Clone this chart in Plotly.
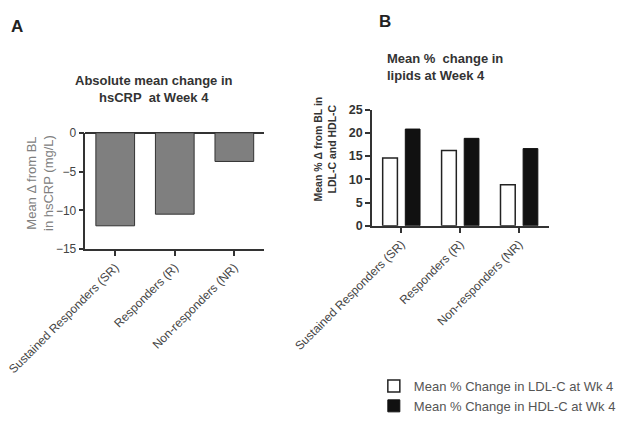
import plotly.graph_objects as go

categories = ["Sustained Responders (SR)", "Responders (R)", "Non-responders (NR)"]
hscrp_change = [-12.0, -10.5, -3.7]
ldl_change = [14.6, 16.2, 8.8]
hdl_change = [20.8, 18.8, 16.6]
series_names = ["Mean % Change in LDL-C at Wk 4", "Mean % Change in HDL-C at Wk 4"]

FONT = "Liberation Sans, Arial, sans-serif"
W, H = 621, 421


def px_x(x):
    return x / W


def px_y(y):
    return 1 - y / H


fig = go.Figure()

fig.add_trace(go.Bar(
    x=categories, y=hscrp_change, xaxis="x", yaxis="y",
    marker=dict(color="#7f7f7f", line=dict(color="#333333", width=1)),
    width=0.65, offset=-0.325, showlegend=False,
))
fig.add_trace(go.Bar(
    x=categories, y=ldl_change, xaxis="x2", yaxis="y2", name=series_names[0],
    marker=dict(color="white", line=dict(color="#222222", width=1.5)),
    width=0.25, offset=-0.317,
))
fig.add_trace(go.Bar(
    x=categories, y=hdl_change, xaxis="x2", yaxis="y2", name=series_names[1],
    marker=dict(color="#111111", line=dict(color="#111111", width=1)),
    width=0.25, offset=0.067,
))

axis_common = dict(showgrid=False, showline=True, linecolor="#333333", linewidth=1.5,
                   ticks="outside", ticklen=5, tickcolor="#333333", tickwidth=1.5,
                   automargin=False)

fig.update_layout(
    width=W, height=H,
    margin=dict(l=0, r=0, t=0, b=0),
    paper_bgcolor="white", plot_bgcolor="white",
    barmode="overlay",
    font=dict(family=FONT, size=11, color="#444444"),
    xaxis=dict(domain=[px_x(88), px_x(272)], anchor="y", range=[-0.5, 2.5],
               tickangle=-45, tickfont=dict(size=12, color="#444444"), **axis_common),
    yaxis=dict(domain=[px_y(257), px_y(137)], anchor="x", range=[-15, 0],
               tickvals=[0, -5, -10, -15], zeroline=True, zerolinecolor="#333333",
               zerolinewidth=1.5, tickfont=dict(size=12, color="#444444"), **axis_common),
    xaxis2=dict(domain=[px_x(383), px_x(565)], anchor="y2", range=[-0.5, 2.5],
                tickangle=-45, tickfont=dict(size=12, color="#444444"), **axis_common),
    yaxis2=dict(domain=[px_y(233), px_y(113)], anchor="x2", range=[0, 25],
                tickvals=[0, 5, 10, 15, 20, 25], zeroline=False,
                tickfont=dict(size=12.5, color="#333333", weight="bold"),
                **axis_common),
    legend=dict(x=px_x(385), y=px_y(383), xanchor="left", yanchor="top",
                font=dict(size=13, color="#555555"), bgcolor="rgba(0,0,0,0)",
                tracegroupgap=0, itemwidth=30),
)

annotations = [
    dict(text="<b>A</b>", x=px_x(18), y=px_y(27), font=dict(size=17, color="#222222")),
    dict(text="<b>B</b>", x=px_x(397), y=px_y(22), font=dict(size=17, color="#222222")),
    dict(text="<b>Absolute mean change in<br>hsCRP  at Week 4</b>", x=px_x(159), y=px_y(92),
         font=dict(size=13, color="#333333"), align="center"),
    dict(text="<b>Mean %  change in<br>lipids at Week 4</b>", x=px_x(396), y=px_y(69),
         xanchor="left", font=dict(size=13, color="#333333"), align="left"),
    dict(text="Mean Δ from BL<br>in hsCRP (mg/L)", x=px_x(41), y=px_y(189), textangle=-90,
         font=dict(size=13, color="#808080"), align="center"),
    dict(text="<b>Mean % Δ from BL in<br>LDL-C and HDL-C</b>", x=px_x(335), y=px_y(154), textangle=-90,
         font=dict(size=10.5, color="#333333"), align="center"),
]
for a in annotations:
    a.setdefault("xanchor", "center")
    a.update(xref="paper", yref="paper", showarrow=False, yanchor="middle")
fig.update_layout(annotations=annotations)

fig.write_html(
    "out.html",
    config={"displayModeBar": False},
    post_script=(
        "document.body.style.margin='0px';"
        "document.body.style.overflow='hidden';"
        "document.documentElement.style.overflow='hidden';"
    ),
)
